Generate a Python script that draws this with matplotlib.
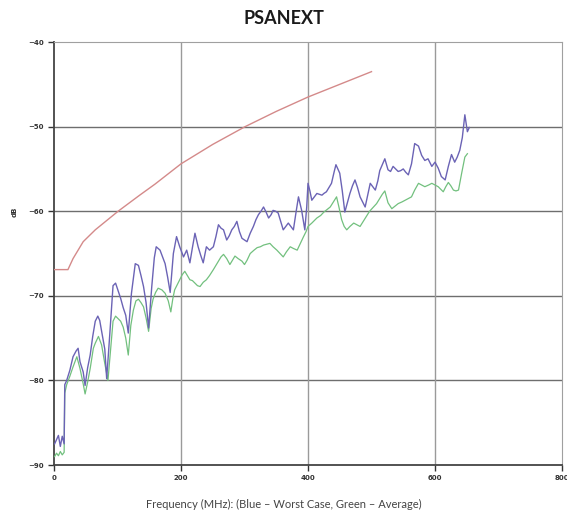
import matplotlib
matplotlib.use("Agg")
import matplotlib.pyplot as plt

# Worst case measurement (blue)
blueFreq = [1, 4, 7, 10, 13, 16, 17, 20, 25, 30, 35, 38, 41, 46, 49, 53, 57, 61, 65, 69,
            72, 76, 80, 83, 88, 93, 97, 101, 105, 109, 113, 117, 122, 128, 133, 137, 141, 145, 149, 154,
            158, 161, 167, 171, 175, 179, 183, 188, 193, 198, 204, 209, 214, 218, 222, 227, 231, 235, 240, 245,
            251, 255, 259, 263, 267, 272, 276, 280, 284, 288, 292, 296, 300, 304, 309, 314, 318, 322, 326, 330,
            334, 338, 342, 345, 349, 353, 357, 361, 365, 369, 373, 377, 381, 385, 390, 395, 398, 400, 403, 406,
            410, 414, 418, 422, 425, 429, 433, 437, 441, 444, 447, 450, 454, 458, 462, 466, 470, 474, 478, 482,
            486, 490, 494, 498, 502, 506, 510, 513, 517, 521, 526, 530, 534, 538, 542, 546, 550, 554, 558, 563,
            568, 574, 579, 584, 589, 595, 600, 605, 610, 616, 621, 626, 631, 635, 639, 643, 647, 651, 654]
blueVals = [-87.5, -87.0, -86.5, -87.8, -86.6, -87.5, -80.5, -80.0, -78.8, -77.2, -76.5, -76.2, -77.8, -79.0, -80.6, -78.5, -77.0, -74.8, -73.0, -72.4,
            -72.9, -74.6, -76.3, -79.8, -74.4, -68.8, -68.5, -69.4, -70.3, -71.4, -72.3, -74.4, -69.7, -66.2, -66.4, -67.6, -68.9, -70.8, -73.8, -68.9,
            -65.5, -64.2, -64.6, -65.4, -66.2, -67.8, -69.6, -65.0, -63.0, -64.2, -65.4, -64.6, -66.1, -64.3, -62.6, -64.2, -65.2, -66.1, -64.2, -64.6,
            -64.2, -63.0, -61.6, -62.0, -62.2, -63.4, -62.9, -62.2, -61.8, -61.2, -62.4, -63.2, -63.4, -63.6, -62.6, -61.8, -61.0, -60.4, -60.0, -59.5,
            -60.1, -60.8, -60.4, -59.9, -60.0, -60.2, -61.2, -62.2, -61.8, -61.4, -61.8, -62.2, -60.2, -58.3, -59.9, -62.2, -59.5, -56.7, -57.6, -58.7,
            -58.3, -57.9, -58.0, -58.1, -57.9, -57.7, -57.2, -56.7, -55.4, -54.5, -55.0, -55.5, -57.6, -60.1, -59.0, -57.9, -57.0, -56.3, -57.2, -58.3,
            -58.9, -59.5, -58.1, -56.7, -57.1, -57.5, -56.4, -55.2, -54.5, -53.8, -55.1, -55.3, -54.7, -55.0, -55.3, -55.2, -55.0, -55.4, -55.7, -54.4,
            -52.0, -52.3, -53.4, -54.0, -53.8, -54.7, -54.2, -54.9, -55.9, -56.3, -54.7, -53.3, -54.2, -53.6, -52.8, -51.3, -48.6, -50.6, -50.1]

# Average measurement (green)
greenFreq = [1, 4, 7, 10, 13, 16, 17, 20, 25, 30, 36, 41, 46, 49, 53, 57, 62, 65, 70, 75,
             80, 85, 89, 93, 97, 101, 105, 109, 113, 117, 121, 125, 129, 133, 137, 141, 145, 149, 153, 156,
             160, 164, 170, 175, 180, 184, 187, 190, 194, 198, 202, 206, 210, 214, 218, 222, 226, 230, 235, 240,
             245, 251, 255, 259, 263, 267, 272, 277, 281, 285, 290, 296, 300, 304, 309, 315, 320, 325, 330, 335,
             340, 345, 351, 356, 361, 366, 372, 377, 383, 388, 393, 397, 400, 406, 410, 414, 420, 425, 430, 435,
             440, 445, 449, 453, 457, 461, 466, 472, 477, 482, 487, 492, 497, 503, 508, 513, 517, 521, 526, 532,
             537, 542, 548, 553, 558, 563, 568, 574, 579, 584, 590, 595, 600, 605, 609, 613, 617, 621, 625, 629,
             633, 637, 642, 647, 651]
greenVals = [-89.0, -88.6, -88.9, -88.4, -88.8, -88.5, -81.5, -80.5, -79.5, -78.4, -77.2, -78.6, -80.4, -81.6, -80.2, -78.6, -76.2, -75.6, -74.8, -75.8,
             -78.0, -80.0, -76.5, -73.0, -72.4, -72.7, -73.0, -73.7, -75.0, -77.0, -73.5, -71.7, -70.6, -70.4, -70.8, -71.3, -72.6, -74.2, -71.5, -70.4,
             -69.6, -69.1, -69.3, -69.7, -70.6, -71.9, -70.4, -69.3, -68.7, -68.1, -67.5, -67.1, -67.6, -68.1, -68.2, -68.5, -68.8, -68.9, -68.4, -68.1,
             -67.6, -66.9, -66.4, -65.9, -65.4, -65.1, -65.6, -66.3, -65.8, -65.3, -65.6, -65.9, -66.3, -65.8, -65.0, -64.6, -64.3, -64.2, -64.0, -63.9,
             -63.8, -64.2, -64.6, -65.0, -65.4, -64.8, -64.2, -64.4, -64.6, -63.8, -63.0, -62.4, -61.8, -61.4, -61.1, -60.8, -60.5, -60.1, -59.8, -59.5,
             -58.9, -58.3, -59.6, -61.0, -61.8, -62.2, -61.8, -61.4, -61.6, -61.8, -61.2, -60.6, -60.0, -59.5, -59.1, -58.5, -58.0, -57.6, -59.0, -59.7,
             -59.4, -59.1, -58.9, -58.7, -58.5, -58.3, -57.5, -56.7, -56.9, -57.1, -56.9, -56.7, -56.9, -57.1, -57.4, -57.7, -57.1, -56.6, -57.0, -57.5,
             -57.6, -57.5, -55.5, -53.6, -53.2]

# Limit line (red)
limitFreq = [1, 22, 30, 46, 65, 101, 135, 159, 200, 250, 301, 350, 400, 450, 500]
limitVals = [-66.9, -66.9, -65.6, -63.6, -62.2, -60.0, -58.1, -56.8, -54.4, -52.1, -50.0, -48.2, -46.5, -45.0, -43.5]

xTicks = [0, 200, 400, 600, 800]
yTicks = [-90, -80, -70, -60, -50, -40]

fig = plt.figure(figsize=(5.67, 5.19), dpi=100)
ax = fig.add_axes([0.0952, 0.104, 0.896, 0.815])

# Grid lines: horizontal darker, vertical lighter
for y in yTicks[1:-1]:
    ax.axhline(y, color="#6e6e6e", lw=1.0, zorder=1)
for x in xTicks[1:-1]:
    ax.axvline(x, color="#9a9a9a", lw=1.0, zorder=1)

ax.plot(limitFreq, limitVals, color="#d48a8a", lw=1.0, zorder=3)
ax.plot(greenFreq, greenVals, color="#72c07e", lw=0.9, zorder=3)
ax.plot(blueFreq, blueVals, color="#6b63b5", lw=1.0, zorder=4)

ax.set_xlim(0, 800)
ax.set_ylim(-90, -40)
ax.set_xticks(xTicks)
ax.set_yticks(yTicks)
ax.tick_params(axis="both", labelsize=5, length=4, width=1, color="#333333", direction="out")
for lab in ax.get_xticklabels() + ax.get_yticklabels():
    lab.set_fontweight("bold")
    lab.set_color("#333333")

ax.spines["left"].set_color("#444444")
ax.spines["bottom"].set_color("#444444")
ax.spines["left"].set_linewidth(1.3)
ax.spines["bottom"].set_linewidth(1.3)
ax.spines["top"].set_color("#a0a0a0")
ax.spines["right"].set_color("#a0a0a0")

# y axis unit label, placed by hand
fig.text(15 / 567, 1 - 212 / 519, "dB", rotation=90, ha="center", va="center",
         fontsize=5, fontweight="bold", color="#333333")
fig.text(0.5, 0.018, "Frequency (MHz): (Blue – Worst Case, Green – Average)",
         ha="center", va="bottom", fontsize=8, color="#444444", family="Lato")
fig.text(0.5, 0.965, "PSANEXT", ha="center", va="center", fontsize=13,
         fontweight="bold", color="#1a1a1a", family="Lato")

fig.savefig("out.png", dpi=100)
